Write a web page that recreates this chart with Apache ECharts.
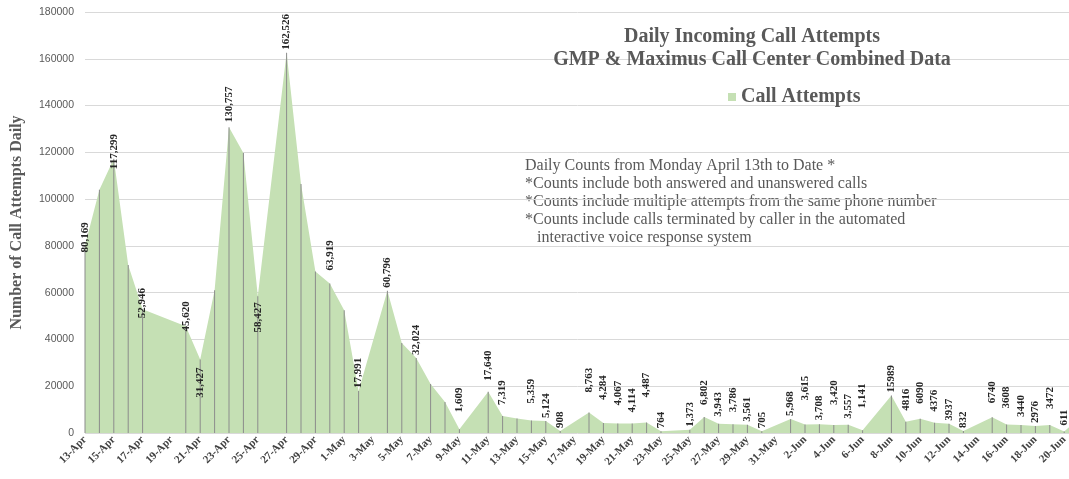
<!DOCTYPE html>
<html>
<head>
<meta charset="utf-8">
<script src="https://cdn.jsdelivr.net/npm/echarts@6/dist/echarts.min.js"></script>
<style>
  html, body { margin: 0; padding: 0; background: #fff; }
  #main { width: 1069px; height: 479px; }
</style>
</head>
<body>
<div id="main"></div>
<script>
// one entry per calendar day, weekends without data are null
const dates = [
  '13-Apr','14-Apr','15-Apr','16-Apr','17-Apr','18-Apr','19-Apr','20-Apr','21-Apr','22-Apr',
  '23-Apr','24-Apr','25-Apr','26-Apr','27-Apr','28-Apr','29-Apr','30-Apr','1-May','2-May',
  '3-May','4-May','5-May','6-May','7-May','8-May','9-May','10-May','11-May','12-May',
  '13-May','14-May','15-May','16-May','17-May','18-May','19-May','20-May','21-May','22-May',
  '23-May','24-May','25-May','26-May','27-May','28-May','29-May','30-May','31-May','1-Jun',
  '2-Jun','3-Jun','4-Jun','5-Jun','6-Jun','7-Jun','8-Jun','9-Jun','10-Jun','11-Jun',
  '12-Jun','13-Jun','14-Jun','15-Jun','16-Jun','17-Jun','18-Jun','19-Jun','20-Jun','21-Jun',
  '22-Jun'
];
const callAttempts = [
  80169, 104000, 117299, 71800, 52946, null, null, 45620, 31427, 61000,
  130757, 119700, 58427, null, 162526, 106500, 69000, 63919, 52500, 17991,
  null, 60796, 38500, 32024, 21000, 13300, 1609, null, 17640, 7319,
  6200, 5359, 5124, 908, null, 8763, 4284, 4067, 4114, 4487,
  764, null, 1373, 6802, 3943, 3786, 3561, 705, null, 5968,
  3615, 3708, 3420, 3557, 1141, null, 15989, 4816, 6090, 4376,
  3937, 832, null, 6740, 3608, 3440, 2976, 3472, 611, null,
  12000
];
// days whose value has no data label in the original
const unlabelled = ['14-Apr','16-Apr','22-Apr','24-Apr','28-Apr','29-Apr','1-May','5-May',
  '7-May','8-May','13-May','22-Jun'];
const noCommaFrom = '8-Jun';

const notes = [
  'Daily Counts from Monday April 13th to Date *',
  '*Counts include both answered and unanswered calls',
  '*Counts include multiple attempts from the same phone number',
  '*Counts include calls terminated by caller in the automated',
  '   interactive voice response system'
];

// label placement tweaks (distance in px)
const labelCenter = { '13-Apr': 8, '15-Apr': 7, '17-Apr': 6, '20-Apr': 10 };
const labelBelow = { '21-Apr': 8, '25-Apr': 6 };
const labelLift = {
  '23-Apr': 5, '30-Apr': 13, '9-May': 17, '11-May': 11, '12-May': 11, '14-May': 17,
  '18-May': 20, '19-May': 23, '20-May': 18, '21-May': 11, '22-May': 25, '26-May': 12,
  '27-May': 7, '28-May': 12, '2-Jun': 24, '3-Jun': 4, '4-Jun': 20, '5-Jun': 6,
  '6-Jun': 22, '9-Jun': 11, '10-Jun': 15, '11-Jun': 11, '15-Jun': 14, '16-Jun': 16,
  '17-Jun': 8, '19-Jun': 16, '20-Jun': 6
};

const cutIdx = dates.indexOf(noCommaFrom);
function fmt(v, i) {
  return i < cutIdx ? v.toLocaleString('en-US') : String(v);
}

function labelFor(i) {
  const d = dates[i];
  if (unlabelled.indexOf(d) >= 0) return { show: false };
  if (d in labelCenter) return { position: 'top', align: 'center', distance: labelCenter[d] };
  if (d in labelBelow) return { position: 'insideTop', align: 'right', distance: labelBelow[d] };
  return { distance: labelLift[d] || 3 };
}

const dropData = callAttempts.map((v, i) => v == null ? '-' : { value: v, label: labelFor(i) });

let myChart = echarts.init(document.getElementById('main'));

myChart.setOption({
  animation: false,
  title: {
    text: 'Daily Incoming Call Attempts\nGMP & Maximus Call Center Combined Data',
    left: 747,
    top: 20,
    textAlign: 'center',
    textStyle: {
      fontFamily: 'Liberation Serif',
      fontWeight: 'bold',
      fontSize: 20,
      lineHeight: 23,
      color: '#595959'
    }
  },
  legend: {
    data: ['Call Attempts'],
    left: 728,
    top: 87,
    padding: 0,
    icon: 'rect',
    itemWidth: 8,
    itemHeight: 8,
    textStyle: {
      fontFamily: 'Liberation Serif',
      fontWeight: 'bold',
      fontSize: 20,
      color: '#595959'
    }
  },
  graphic: [{
    type: 'text',
    left: 525,
    top: 157,
    style: {
      text: notes.join('\n'),
      font: '16px "Liberation Serif"',
      fill: '#595959',
      lineHeight: 18
    }
  }],
  // plot runs past the right edge: the source picture is cropped there
  grid: { left: 85, right: -24, top: 12, bottom: 46, outerBoundsMode: 'none' },
  xAxis: {
    type: 'category',
    data: dates,
    boundaryGap: false,
    axisLine: { show: false },
    axisTick: { show: false },
    axisLabel: {
      rotate: 45,
      margin: 5,
      interval: (i) => i % 2 === 0 && i < dates.length - 2,
      fontFamily: 'Liberation Serif',
      fontWeight: 'bold',
      fontSize: 11,
      color: '#404040'
    }
  },
  yAxis: {
    type: 'value',
    min: 0,
    max: 180000,
    interval: 20000,
    name: 'Number of Call Attempts Daily',
    nameLocation: 'middle',
    nameGap: 60,
    nameTextStyle: {
      fontFamily: 'Liberation Serif',
      fontWeight: 'bold',
      fontSize: 16,
      color: '#595959'
    },
    axisLabel: {
      margin: 11,
      fontFamily: 'Liberation Sans',
      fontSize: 10.5,
      color: '#595959',
      formatter: (v) => String(v)
    },
    splitLine: { lineStyle: { color: '#d9d9d9' } }
  },
  series: [
    {
      name: 'Call Attempts',
      type: 'line',
      data: callAttempts,
      connectNulls: true,
      symbol: 'none',
      z: 1,
      itemStyle: { color: '#c5e0b4' },
      lineStyle: { width: 0, opacity: 0 },
      areaStyle: { color: '#c5e0b4', opacity: 1 }
    },
    {
      name: 'drop',
      type: 'bar',
      data: dropData,
      barWidth: 1,
      z: 2,
      itemStyle: { color: '#8c8c8c' },
      label: {
        show: true,
        position: 'top',
        rotate: 90,
        align: 'left',
        verticalAlign: 'middle',
        fontFamily: 'Liberation Serif',
        fontWeight: 'bold',
        fontSize: 11,
        color: '#262626',
        formatter: (p) => fmt(p.value, p.dataIndex)
      }
    }
  ]
});
</script>
</body>
</html>
